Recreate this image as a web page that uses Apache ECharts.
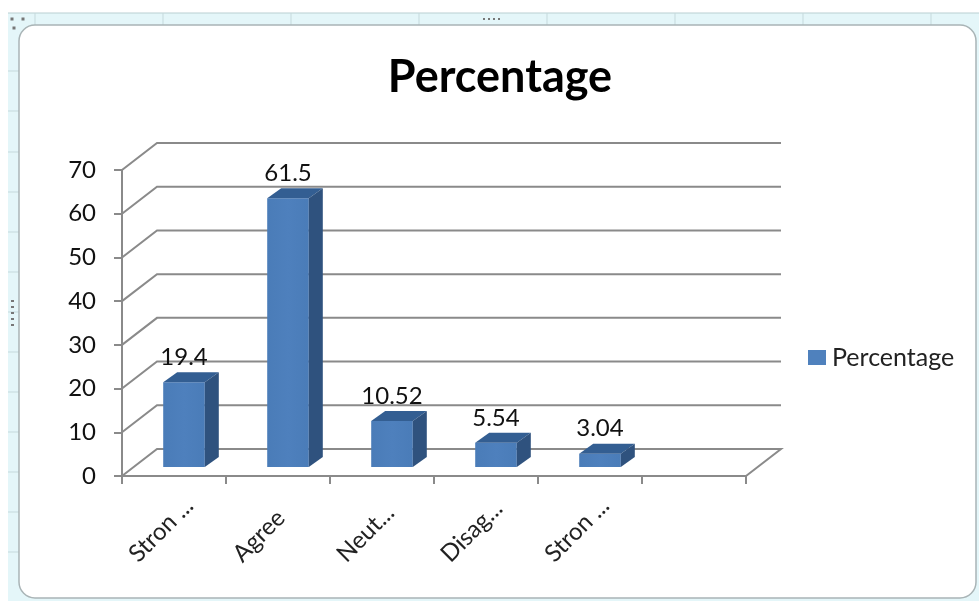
<!DOCTYPE html>
<html>
<head>
<meta charset="utf-8">
<style>html,body{margin:0;padding:0;background:#fff}#c{width:979px;height:601px;filter:blur(0.45px)}</style>
<script src="https://cdn.jsdelivr.net/npm/echarts@6/dist/echarts.min.js"></script>
</head>
<body>
<div id="c"></div>
<script>
const categories = ['Stron ...', 'Agree', 'Neut...', 'Disag...', 'Stron ...', ''];
const seriesName = 'Percentage';
const values = [19.4, 61.5, 10.52, 5.54, 3.04];
const yTicks = [0, 10, 20, 30, 40, 50, 60, 70];
const sheetColTicks = [35, 163, 291, 419, 547, 675, 803, 931];
const sheetRowTicks = [71, 111, 152, 192, 232, 272, 312, 352, 392, 432, 472, 512, 552];

const FONT = 'Lato, "Open Sans", sans-serif';
const DX = 35, DY = -27;           // depth of the 3D box
const GRID = '#8a8a8a';
const chart = echarts.init(document.getElementById('c'), null, {renderer: 'canvas'});

const frame = [
  {type:'rect', shape:{x:8,y:13,width:971,height:588}, style:{fill:'#e4f6f9'}, z:-5},
  {type:'rect', shape:{x:0,y:0,width:979,height:13}, style:{fill:'#fff'}, z:-5},
  {type:'line', shape:{x1:8,y1:13,x2:979,y2:13}, style:{stroke:'#b9cfd2',lineWidth:1}, z:-5}
];
sheetColTicks.forEach(x => frame.push({type:'line', shape:{x1:x,y1:13,x2:x,y2:25}, style:{stroke:'#c5d9dc',lineWidth:1}, z:-5}));
sheetRowTicks.forEach(y => frame.push({type:'line', shape:{x1:8,y1:y,x2:19,y2:y}, style:{stroke:'#c5d9dc',lineWidth:1}, z:-5}));
frame.push({type:'rect', shape:{x:19,y:25,width:957,height:573,r:16}, style:{fill:'#fff',stroke:'#a9b4b6',lineWidth:1.5}, z:-4});
[[12,19],[23,19],[14,28]].forEach(p => frame.push({type:'rect', shape:{x:p[0]-1.5,y:p[1]-1.5,width:3,height:3}, style:{fill:'#777'}, z:-3}));
[484,489,494,499].forEach(x => frame.push({type:'rect', shape:{x:x-1,y:18,width:2,height:2}, style:{fill:'#777'}, z:-3}));
[300,306,312,318,324].forEach(y => frame.push({type:'rect', shape:{x:11,y:y,width:3,height:2}, style:{fill:'#777'}, z:-3}));

chart.setOption({
  animation: false,
  backgroundColor: '#fff',
  graphic: {z: -10, elements: frame},
  title: {
    text: seriesName, left: 495, top: 50, textAlign: 'center',
    textStyle: {fontFamily: FONT, fontSize: 45, fontWeight: 'bold', color: '#000'}
  },
  legend: {
    data: [seriesName], left: 803, top: 340, itemWidth: 18, itemHeight: 15, icon: 'rect',
    itemGap: 0,
    textStyle: {fontFamily: FONT, fontSize: 25, color: '#222', padding: [0,0,0,1]}
  },
  grid: {left: 122, right: 233, top: 170, bottom: 125},
  xAxis: {
    type: 'category', data: categories, boundaryGap: true, z: 4,
    axisLine: {lineStyle: {color: GRID, width: 2}},
    axisTick: {show: true, length: 8, lineStyle: {color: GRID, width: 2}, alignWithLabel: false},
    axisLabel: {
      interval: 0, rotate: 45, margin: 41, align: 'left', verticalAlign: 'middle',
      padding: [0, 0, 0, -58], hideOverlap: false,
      fontFamily: FONT, fontSize: 24, color: '#222'
    }
  },
  yAxis: {
    type: 'value', min: 0, max: 70, interval: 10, z: 4,
    splitLine: {show: false},
    axisLine: {show: true, lineStyle: {color: GRID, width: 2}},
    axisTick: {show: true, length: 8, lineStyle: {color: GRID, width: 2}},
    axisLabel: {margin: 26, fontFamily: FONT, fontSize: 24, color: '#111'}
  },
  series: [
    {
      type: 'custom', name: 'walls', coordinateSystem: 'cartesian2d', silent: true, z: 1, clip: false,
      data: yTicks.map(v => [0, v]),
      encode: {x: 0, y: 1},
      renderItem(params, api) {
        const c = params.coordSys;
        const y = api.coord([0, api.value(1)])[1];
        const pts = [[c.x, y], [c.x + DX, y + DY], [c.x + c.width + DX, y + DY]];
        if (api.value(1) === 0) pts.push([c.x + c.width, y]);
        return {type: 'polyline', shape: {points: pts}, style: {fill: 'none', stroke: GRID, lineWidth: 2}};
      }
    },
    {
      type: 'custom', name: seriesName, coordinateSystem: 'cartesian2d', z: 3, clip: false,
      itemStyle: {color: '#4f81bd'},
      data: values.map((v, i) => [i, v]),
      encode: {x: 0, y: 1},
      renderItem(params, api) {
        const idx = api.value(0), val = api.value(1);
        const top = api.coord([idx, val]);
        const base = api.coord([idx, 0]);
        const w = api.size([1, 0])[0] * 0.4;
        const sx = 10, sy = -9, dx = 14, dy = -10;
        const l = top[0] + sx - w / 2, r = l + w;
        const t = top[1] + sy, b = base[1] + sy;
        return {type: 'group', children: [
          {type: 'rect', shape: {x: l, y: t, width: w, height: b - t}, style: {
            fill: new echarts.graphic.LinearGradient(0, 0, 1, 0, [
              {offset: 0, color: '#4a7cb8'}, {offset: 0.5, color: '#4e80bd'}, {offset: 1, color: '#4a7cb8'}
            ])}},
          {type: 'polygon', shape: {points: [[l, t], [r, t], [r + dx, t + dy], [l + dx, t + dy]]}, style: {fill: '#335e92'}},
          {type: 'polygon', shape: {points: [[r, t], [r + dx, t + dy], [r + dx, b + dy], [r, b]]}, style: {fill: '#2f527e'}},
          {type: 'text', style: {x: (l + r) / 2, y: t - 25, text: String(val), align: 'center', verticalAlign: 'middle',
            font: '24px ' + FONT, fill: '#111'}}
        ]};
      }
    }
  ]
});
</script>
</body>
</html>
